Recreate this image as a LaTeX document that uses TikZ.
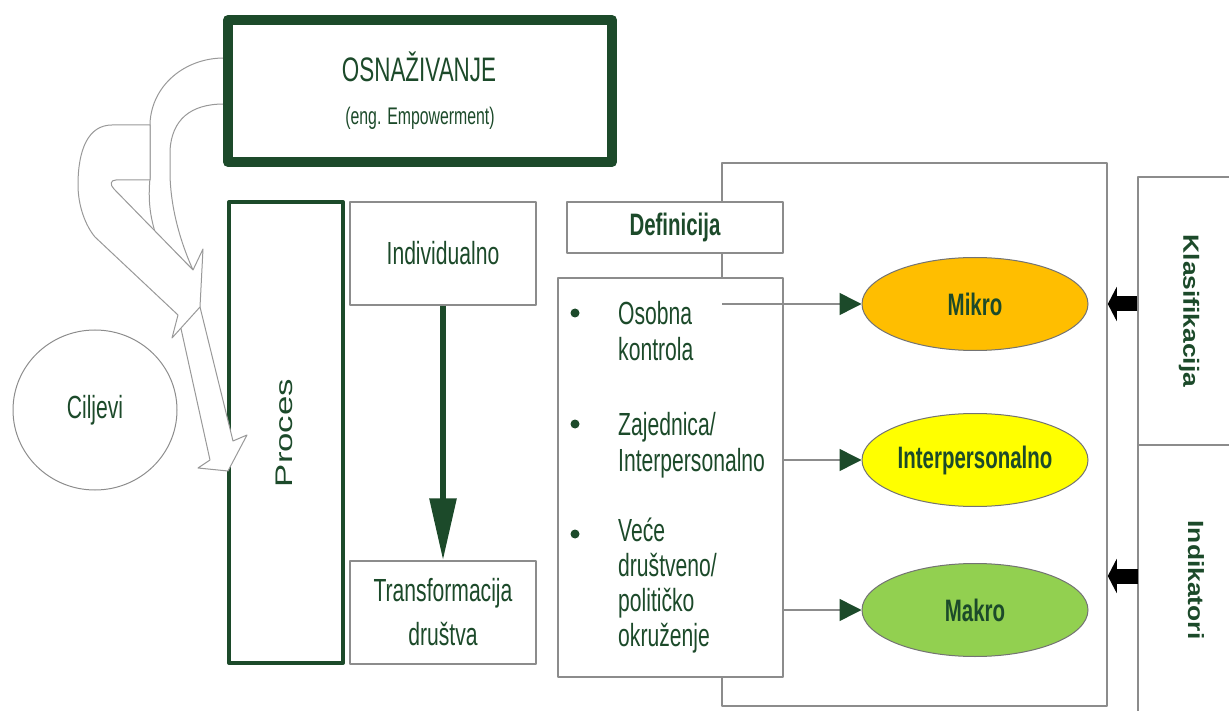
\documentclass[tikz,border=0pt]{standalone}
\usepackage{fontspec}
\setmainfont{Liberation Sans}
\newfontfamily\cond{Liberation Sans}[FakeStretch=0.66]
\newfontfamily\wide{Liberation Sans}[FakeStretch=1.45]
\newfontfamily\widebold{Liberation Sans Bold}[FakeStretch=1.2]
\usetikzlibrary{arrows.meta,shapes.geometric}
\definecolor{osgreen}{RGB}{28,74,42}
\definecolor{boxgray}{RGB}{140,140,140}
\definecolor{mikrofill}{RGB}{255,190,0}
\definecolor{interfill}{RGB}{255,255,0}
\definecolor{makrofill}{RGB}{146,208,80}
\begin{document}
\begin{tikzpicture}[x=1pt,y=-1pt,line join=round,
  graybox/.style={rectangle,draw=boxgray,line width=1.5pt,fill=white,inner sep=0pt},
  thickbox/.style={rectangle,draw=osgreen,inner sep=0pt},
  condtxt/.style={text=osgreen,inner sep=0pt,font=\cond\fontsize{32}{36}\selectfont},
  boldtxt/.style={text=osgreen,inner sep=0pt,font=\cond\bfseries\fontsize{31}{36}\selectfont},
  sidetxt/.style={text=osgreen,inner sep=0pt,font=\widebold\fontsize{22}{26}\selectfont},
  oval/.style={ellipse,draw=black!55,line width=1pt,minimum width=226,minimum height=93,inner sep=0pt},
  blockarrow/.style={draw=black!40,line width=1pt,fill=white},
  link/.style={draw=boxgray,line width=1.5pt,-{Triangle[length=22pt,width=22pt,color=osgreen]}},
  blkarrow/.style={black,line width=15pt,-{Triangle[length=9pt,width=34pt]}},
  bigarrow/.style={osgreen,line width=6pt,-{Triangle[length=62pt,width=26pt]}}]
\useasboundingbox (0,0) rectangle (1229,711);
% right part
\node[graybox,fill=none,minimum width=385,minimum height=543] (frame) at (914.5,434.5) {};
\node[graybox,minimum width=112,minimum height=268] (klas) at (1194,311) {};
\node[graybox,minimum width=112,minimum height=285] (indik) at (1194,587.5) {};
\node[sidetxt,rotate=-90] (klastxt) at (1189,311) {Klasifikacija};
\node[sidetxt,rotate=-90] (indiktxt) at (1196,580) {Indikatori};
\node[graybox,boldtxt,minimum width=216,minimum height=51] (def) at (675,227.5) {Definicija};
\node[graybox,minimum width=225,minimum height=399] (deflist) at (670.5,477.5) {};
\foreach \y in {313,424,534}
  \fill[osgreen] (575,\y) circle (4.5);
\node[condtxt,align=left,anchor=west] (osobna) at (618,331) {Osobna\\kontrola};
\node[condtxt,align=left,anchor=west] (zajed) at (618,445) {Zajednica/\\Interpersonalno};
\node[condtxt,align=left,anchor=west,font=\cond\fontsize{32}{35}\selectfont] (vece) at (618,586) {Veće\\društveno/\\političko\\okruženje};
\node[oval,fill=mikrofill,boldtxt] (mikro) at (975,304) {Mikro};
\node[oval,fill=interfill,boldtxt] (interp) at (975,460) {Interpersonalno};
\node[oval,fill=makrofill,boldtxt] (makro) at (975,610) {Makro};
\coordinate (osobnaend) at (722,304);
\draw[link] (osobnaend) -- (mikro);
\draw[link] (deflist.east |- interp) -- (interp);
\draw[link] (deflist.east |- makro) -- (makro);
\coordinate (indikpt) at (1138,576);
\draw[blkarrow] (klas.west |- mikro) -- (frame.east |- mikro);
\draw[blkarrow] (indikpt) -- (frame.east |- indikpt);
% middle part
\node[graybox,condtxt,minimum width=186,minimum height=103] (indiv) at (443,253.5) {Individualno};
\node[graybox,condtxt,align=center,minimum width=186,minimum height=103,font=\cond\fontsize{32}{44}\selectfont] (transf) at (443,612.5) {Transformacija\\društva};
\draw[bigarrow] (indiv.south) -- (transf.north);
\node[thickbox,line width=4pt,minimum width=114,minimum height=461] (proc) at (286,432.5) {};
\node[text=osgreen,inner sep=0pt,font=\wide\fontsize{24}{28}\selectfont,rotate=90] (proctxt) at (284,433) {Proces};
% left part
\node[ellipse,draw=black!45,line width=1pt,minimum width=164,minimum height=160,condtxt] (cilj) at (95,410) {Ciljevi};
\draw[blockarrow] (224,58) .. controls (185,58) and (152,85) .. (150,123) -- (150,178)
  .. controls (148,200) and (150,215) .. (155,232) -- (193,270)
  .. controls (184,250) and (171,215) .. (170,175) -- (170,150)
  .. controls (172,120) and (190,104) .. (224,104) -- cycle;
\draw[blockarrow] (178,315) -- (210,460) -- (198,468) -- (228,471) -- (247,435) -- (233,441) -- (200,307) -- cycle;
\draw[blockarrow] (150,125) -- (112,125) .. controls (88,125) and (78,150) .. (78,185)
  .. controls (78,205) and (85,225) .. (95,237) -- (178,315) -- (172,338) -- (200,307)
  -- (203,249) -- (193,270) -- (114,189) .. controls (110,185) and (110,180) .. (116,180)
  -- (150,180) -- cycle;
% top box
\node[thickbox,line width=10pt,minimum width=384,minimum height=142] (osn) at (420,91) {};
\node[condtxt,anchor=base,font=\cond\fontsize{34}{38}\selectfont] (osntxt) at (419,82) {OSNAŽIVANJE};
\node[condtxt,anchor=base,font=\cond\fontsize{24}{26}\selectfont] (engtxt) at (420,125) {(eng. Empowerment)};
\end{tikzpicture}
\end{document}
